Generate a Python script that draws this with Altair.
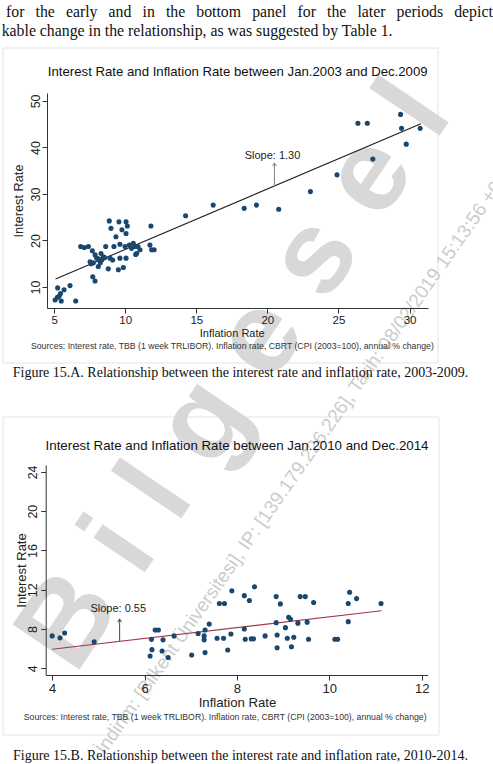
import altair as alt
import pandas as pd

# ---------------- data ----------------
# Panel A: Jan.2003 - Dec.2009 (inflation %, interest %)
a_inflation = [5.07, 5.23, 5.25, 5.35, 5.45, 5.5, 5.7, 6.12, 6.52,
               6.87, 7.13, 7.41, 7.69, 7.53, 7.76, 7.88, 8.0, 8.11, 7.72, 7.88,
               8.3, 8.46, 8.35, 8.63, 8.81, 8.88, 9.0, 8.93, 9.12, 9.21, 9.35,
               9.56, 9.63, 9.63, 9.52, 9.77, 9.87, 10.06, 10.15, 10.06, 9.99,
               10.06, 10.29, 10.57, 10.69, 10.81, 11.04, 11.74, 11.81, 11.86,
               12.04, 10.74, 8.15, 8.55, 8.25, 10.45, 10.9, 7.6,
               14.25, 16.19, 18.37, 19.23, 20.8, 23.03, 24.9, 26.37, 27.03,
               27.42, 29.37, 29.44, 29.77, 30.75]
a_interest = [7.2, 7.8, 9.8, 8.0, 8.6, 7.0, 9.4, 10.3, 7.0,
              18.7, 18.5, 18.7, 17.8, 15.4, 15.2, 16.9, 16.2, 14.4, 12.2, 11.3,
              17.2, 16.5, 15.8, 18.7, 13.9, 24.2, 22.6, 16.2, 15.8, 18.7, 20.8,
              24.0, 19.2, 16.2, 13.7, 22.3, 14.2, 24.0, 23.1, 21.5, 18.7,
              16.2, 19.0, 19.4, 18.7, 17.2, 18.0, 19.0, 23.1, 18.0,
              18.0, 17.0, 16.0, 16.3, 15.2, 18.3, 18.7, 15.0,
              25.3, 27.6, 26.9, 27.6, 26.7, 30.5, 34.1, 45.2, 45.2,
              37.5, 47.1, 44.1, 40.7, 44.1]

# Panel B: Jan.2010 - Dec.2014
b_inflation = [4.0, 4.17, 4.27, 4.91,
               6.12, 6.16, 6.15, 6.23, 6.3, 6.38, 6.4, 6.51, 6.64,
               7.02, 7.16, 7.29, 7.29, 7.31, 7.31, 7.4, 7.57, 7.71, 7.8, 7.87,
               7.89, 7.62, 7.73,
               8.16, 8.27, 8.38, 8.16, 8.18, 8.31, 8.36, 8.61, 8.85, 8.94, 8.85,
               8.87, 8.87, 9.05, 9.12, 9.16, 9.09, 9.23, 9.18, 9.32, 9.37, 9.48,
               9.52, 9.55, 9.66, 10.12, 10.18, 10.41, 10.44, 10.59, 10.41, 11.12]
b_interest = [7.3, 7.1, 7.6, 6.7,
              5.25, 5.9, 6.95, 7.9, 7.9, 5.77, 6.9, 5.1, 7.3,
              5.35, 7.55, 7.3, 6.9, 7.9, 5.6, 8.5, 7.06, 7.06, 5.87, 7.5,
              11.9, 10.6, 10.6,
              11.4, 10.9, 12.3, 8.0, 6.96, 7.0, 7.0, 7.3, 11.3, 10.56, 8.65,
              7.4, 6.1, 8.14, 9.2, 9.0, 7.06, 7.16, 6.2, 8.6, 11.3, 11.3,
              8.7, 6.96, 10.7, 6.96, 6.96, 10.6, 11.75, 11.1, 8.75, 10.6]

# fitted lines (slope as reported on the chart)
a_slope, a_intercept, a_fit_range = 1.30, 5.07, [5.1, 30.8]
b_slope, b_intercept, b_fit_range = 0.55, 3.74, [4.0, 11.13]

# slope annotations: arrow x, arrow tip, label position
a_arrow_x, a_arrow_tip, a_label_xy = 20.5, 36.6, (20.36, 37.5)
b_arrow_x, b_arrow_tip, b_label_xy = 5.46, 9.0, (5.43, 9.78)

a_x_ticks = [5, 10, 15, 20, 25, 30]
a_y_ticks = [10, 20, 30, 40, 50]
b_x_ticks = [4, 6, 8, 10, 12]
b_y_ticks = [4, 8, 12, 16, 20, 24]

title_a = "Interest Rate and Inflation Rate between Jan.2003 and Dec.2009"
title_b = "Interest Rate and Inflation Rate between Jan.2010 and Dec.2014"
sources = ("Sources: Interest rate, TBB (1 week TRLIBOR). Inflation rate, "
           "CBRT (CPI (2003=100), annual % change)")
caption_a = "Figure 15.A. Relationship between the interest rate and inflation rate, 2003-2009."
caption_b = "Figure 15.B. Relationship between the interest rate and inflation rate, 2010-2014."
body_line1 = ["for", "the", "early", "and", "in", "the", "bottom", "panel",
              "for", "the", "later", "periods", "depict"]
body_line2 = "kable change in the relationship, as was suggested by Table 1."
stamp_big = "B i l g e s e l"
stamp_small = ("İndirim: [Bilkent Üniversitesi], IP: [139.179.226.226], "
               "Tarih: 08/02/2019 15:13:56 +03:00")

# ---------------- layout ----------------
W, H = 493, 764
NAVY = "#1a476f"
SANS = "Liberation Sans"
SERIF = "Liberation Serif"
AXIS_COLOR = "#333333"

# word starts for the justified first body line
line1_x = [6, 35.5, 65.9, 108.6, 142.5, 165.9, 196.3, 252.2, 297.5, 327,
           357.4, 396.6, 454.2]


def make_panel(xs, ys, x_axis, y_axis, infl, rate, slope, intercept, fit_range,
               arrow_x, arrow_tip, label_xy, label_text, line_color, arrow_color):
    X = alt.X("x:Q", scale=xs, axis=x_axis)
    Y = alt.Y("y:Q", scale=ys, axis=y_axis)
    pts = pd.DataFrame({"x": infl, "y": rate})
    fit = pd.DataFrame({"x": fit_range,
                        "y": [intercept + slope * v for v in fit_range]})
    base_y = intercept + slope * arrow_x
    arrow = pd.DataFrame({"x": [arrow_x], "y": [base_y], "y2": [arrow_tip]})
    tip = pd.DataFrame({"x": [arrow_x], "y": [arrow_tip]})
    lab = pd.DataFrame({"x": [label_xy[0]], "y": [label_xy[1]], "t": [label_text]})

    points = alt.Chart(pts).mark_circle(size=26, color=NAVY, opacity=1).encode(x=X, y=Y)
    line = alt.Chart(fit).mark_line(color=line_color, strokeWidth=1.1).encode(x=X, y=Y)
    shaft = alt.Chart(arrow).mark_rule(color=arrow_color, strokeWidth=1.1).encode(
        x=X, y=Y, y2="y2:Q")
    head = alt.Chart(tip).mark_point(
        shape="M-0.7,1L0,0L0.7,1", filled=False, color=arrow_color,
        strokeWidth=1.1, size=30, opacity=1).encode(x=X, y=Y)
    text = alt.Chart(lab).mark_text(
        font=SANS, fontSize=11, color="#222222", align="center",
        baseline="alphabetic").encode(x=X, y=Y, text="t:N")
    return alt.layer(line, shaft, head, points, text)


def axis(orient, offset, values, title, label_size, title_size, label_pad,
         title_x, title_y):
    common = dict(orient=orient, offset=offset, values=values, title=title,
                  grid=False, tickSize=5, domainColor=AXIS_COLOR,
                  tickColor=AXIS_COLOR, labelColor="#222222", titleColor="#222222",
                  labelFont=SANS, titleFont=SANS, labelFontSize=label_size,
                  titleFontSize=title_size, titleFontWeight="normal",
                  labelPadding=label_pad, titleX=title_x, titleY=title_y,
                  titleAlign="center", titleBaseline="alphabetic",
                  labelOverlap=False, domainWidth=1, tickWidth=1, zindex=1)
    if orient == "left":
        common.update(labelAngle=270, labelAlign="center",
                      labelBaseline="alphabetic", titleAngle=270)
    else:
        common.update(labelAngle=0, labelAlign="center", labelBaseline="top",
                      titleAngle=0)
    return alt.Axis(**common)


# panel A geometry (pixels on the page)
ax_l, ax_r, ay_b, ay_t = 47, 428, 308, 93
a_xs = alt.Scale(domain=[4.5, 31.3], range=[ax_l, ax_r], nice=False, zero=False)
a_ys = alt.Scale(domain=[5.48, 51.7], range=[ay_b, ay_t], nice=False, zero=False)
a_xaxis = axis("bottom", ay_b - H, a_x_ticks, "Inflation Rate", 11.5, 11, 1.5,
               231.7, 28)
a_yaxis = axis("left", -ax_l, a_y_ticks, "Interest Rate", 12.5, 12.75, 3,
               -24.5, (ay_b + ay_t) / 2)

# panel B geometry
bx_l, bx_r, by_b, by_t = 45.7, 427.7, 675, 465
b_xs = alt.Scale(domain=[3.86, 12.13], range=[bx_l, bx_r], nice=False, zero=False)
b_ys = alt.Scale(domain=[3.32, 24.7], range=[by_b, by_t], nice=False, zero=False)
b_xaxis = axis("bottom", by_b - H, b_x_ticks, "Inflation Rate", 13, 13.2, 2,
               237, 31.4)
b_yaxis = axis("left", -bx_l, b_y_ticks, "Interest Rate", 12.5, 13, 3.9,
               -20.4, (by_b + by_t) / 2)

panel_a = make_panel(a_xs, a_ys, a_xaxis, a_yaxis, a_inflation, a_interest,
                     a_slope, a_intercept, a_fit_range, a_arrow_x, a_arrow_tip,
                     a_label_xy, f"Slope: {a_slope:.2f}", "#1e1e1e", "#8a8a8a")
panel_b = make_panel(b_xs, b_ys, b_xaxis, b_yaxis, b_inflation, b_interest,
                     b_slope, b_intercept, b_fit_range, b_arrow_x, b_arrow_tip,
                     b_label_xy, f"Slope: {b_slope:.2f}", "#a03a48", "#555555")

one = pd.DataFrame({"k": [0]})

# frames around the two graphs
frames = alt.Chart(pd.DataFrame({"x": [3, 3], "x2": [438, 439],
                                 "y": [48, 417], "y2": [363, 735]})).mark_rect(
    fill=None, stroke="#e4e4e4", strokeWidth=1).encode(
    x=alt.X("x:Q", scale=None), x2="x2", y=alt.Y("y:Q", scale=None), y2="y2")

# document stamp drawn under the page content (angles measured clockwise)
stamp1 = alt.Chart(one).mark_text(
    text=stamp_big, font=SANS, fontWeight="bold", fontSize=117, angle=304,
    color="#d8d8d8", align="center", baseline="middle").encode(
    x=alt.value(235), y=alt.value(376))
stamp2 = alt.Chart(one).mark_text(
    text=stamp_small, font=SANS, fontSize=19, angle=305, color="#cccccc",
    align="left", baseline="middle").encode(x=alt.value(100), y=alt.value(752))

# page text
line1 = alt.Chart(pd.DataFrame({"w": body_line1, "x": line1_x})).mark_text(
    font=SERIF, fontSize=15.8, color="#111111", align="left",
    baseline="alphabetic").encode(x=alt.X("x:Q", scale=None), y=alt.value(16.7),
                                  text="w:N")


def label(txt, x, y, size, font=SANS, align="center", color="#111111"):
    return alt.Chart(one).mark_text(
        text=txt, font=font, fontSize=size, color=color, align=align,
        baseline="alphabetic").encode(x=alt.value(x), y=alt.value(y))


texts = [
    line1,
    label(body_line2, 1.7, 36, 15.8, SERIF, "left"),
    label(title_a, 237.7, 76, 13.2),
    label(sources, 232.4, 349, 8.7, color="#333333"),
    label(caption_a, 12.7, 377.3, 14, SERIF, "left"),
    label(title_b, 237, 450, 13.3),
    label(sources, 225.2, 720, 8.7, color="#333333"),
    label(caption_b, 13, 760, 14, SERIF, "left"),
]

chart = alt.layer(
    frames, stamp1, stamp2, panel_a, panel_b, *texts
).resolve_scale(x="independent", y="independent").resolve_axis(
    x="independent", y="independent"
).properties(
    width=W, height=H, padding=0,
    autosize=alt.AutoSizeParams(type="none"), background="white"
).configure_view(stroke=None)

chart.save("out.html", embed_options={"renderer": "svg", "actions": False})
